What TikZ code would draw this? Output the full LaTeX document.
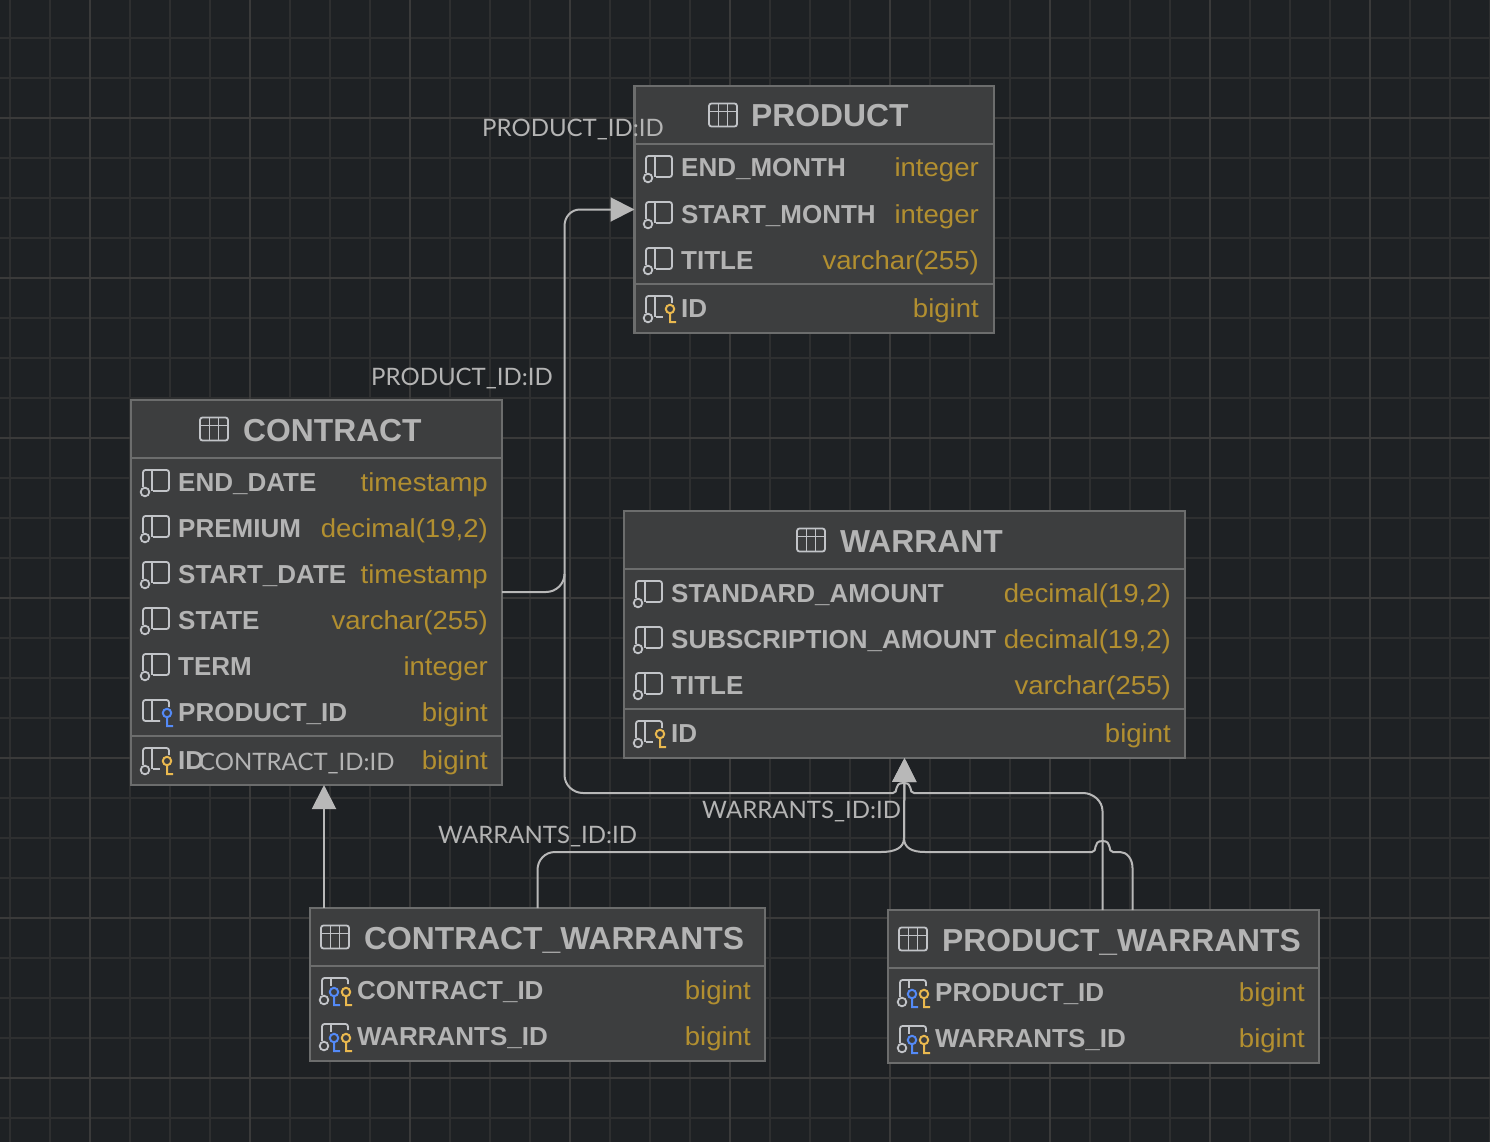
\documentclass[tikz,border=0pt]{standalone}
\usepackage{fontspec}
\setmainfont{Liberation Sans}
\newfontfamily\typefont[FakeStretch=1.06]{Liberation Sans}
\newfontfamily\labelfont{Lato}
\usetikzlibrary{arrows.meta}
\definecolor{canvas}{HTML}{1E2124}
\definecolor{gridminor}{HTML}{2E2F30}
\definecolor{gridmajor}{HTML}{3A3A3A}
\definecolor{tablefill}{HTML}{3D3E3F}
\definecolor{tableline}{HTML}{6C6D6D}
\definecolor{nametext}{HTML}{B4B4B4}
\definecolor{typetext}{HTML}{B28F30}
\definecolor{iconline}{HTML}{C2C4C8}
\definecolor{linkline}{HTML}{B8B8B8}
\definecolor{goldkey}{HTML}{EAB94F}
\definecolor{bluekey}{HTML}{548AF7}
\tikzset{
  tablebox/.style={draw=tableline,fill=tablefill,line width=2.2pt,rectangle,inner sep=0pt,outer sep=0pt,anchor=north west},
  tablesep/.style={draw=tableline,line width=2pt},
  tabletitle/.style={anchor=west,inner sep=0pt,text=nametext,text height=24pt,text depth=0pt,font=\fontsize{31.8pt}{36pt}\selectfont\bfseries},
  colname/.style={anchor=west,inner sep=0pt,text=nametext,text height=18pt,text depth=0pt,font=\fontsize{26pt}{30pt}\selectfont\bfseries},
  coltype/.style={anchor=east,inner sep=0pt,text=typetext,text height=18pt,text depth=0pt,font=\fontsize{26pt}{30pt}\typefont},
  linklabel/.style={anchor=west,inner sep=0pt,text=nametext,text height=18pt,text depth=0pt,font=\fontsize{24pt}{30pt}\labelfont},
  fklink/.style={draw=linkline,line width=2pt},
  fktip/.style={-{Triangle[length=24pt,width=24pt,fill=linkline]}},
  iconstroke/.style={draw=iconline,line width=1.8pt,rounded corners=2.5pt},
  tabicon/.pic={
    \draw[iconstroke] (-14,-11.5) rectangle (14,11.5);
    \draw[iconstroke] (-14,-3.5) -- (14,-3.5) (-4.5,-11.5) -- (-4.5,11.5) (4.5,-11.5) -- (4.5,11.5);
  },
  hollowdot/.pic={\draw[iconline,line width=1.8pt] (0,0) circle[radius=4.3pt];},
  keymark/.pic={
    \draw[pic actions,line width=2pt,fill=none] (0,0) circle[radius=4.2pt] (0,4.2) -- (0,13) -- (6,13);
  },
  colicon/.pic={
    \draw[iconstroke] (1,5) -- (1,-12) -- (27,-12) -- (27,9) -- (11,9);
    \draw[iconline,line width=1.8pt] (10,-12) -- (10,9);
    \pic at (3,10) {hollowdot};
  },
  pkicon/.pic={
    \draw[iconstroke] (1,5) -- (1,-12) -- (27,-12) -- (27,-5);
    \draw[iconline,line width=1.8pt] (10,-12) -- (10,9) (11,9) -- (18,9);
    \pic at (3,10) {hollowdot};
    \pic[draw=goldkey] at (25,1) {keymark};
  },
  fkicon/.pic={
    \draw[iconstroke] (27,-5) -- (27,-12) -- (1,-12) -- (1,9) -- (18,9);
    \draw[iconline,line width=1.8pt] (10,-12) -- (10,9);
    \pic[draw=bluekey] at (25,1) {keymark};
  },
  pfkicon/.pic={
    \draw[iconstroke] (1,5) -- (1,-12) -- (27,-12) -- (27,-6);
    \draw[iconline,line width=1.8pt] (10,-12) -- (10,-4);
    \pic at (3,10) {hollowdot};
    \pic[draw=bluekey] at (13,2) {keymark};
    \pic[draw=goldkey] at (25,2) {keymark};
  },
}
% name, icon x, text x, type x, row y, label, type, icon
\newcommand{\dbrow}[8]{
  \pic at (#2,#5) {#8};
  \node[colname] (#1) at (#3,#5) {#6};
  \node[coltype] (#1-type) at (#4,#5) {#7};
}
\begin{document}
\begin{tikzpicture}[x=1pt,y=-1pt]
  \useasboundingbox (0,0) rectangle (1490,1142);
  \fill[canvas] (0,0) rectangle (1490,1142);
  \foreach \gx in {10,50,...,1490} \draw[gridminor,line width=2pt] (\gx,0) -- (\gx,1142);
  \foreach \gy in {38,78,...,1142} \draw[gridminor,line width=2pt] (0,\gy) -- (1490,\gy);
  \foreach \gx in {90,250,...,1490} \draw[gridmajor,line width=2pt] (\gx,0) -- (\gx,1142);
  \foreach \gy in {118,278,...,1142} \draw[gridmajor,line width=2pt] (0,\gy) -- (1490,\gy);

  % tables
  \node[tablebox,minimum width=359.5pt,minimum height=247pt] (product) at (634.5,86) {};
  \draw[tablesep] (product.west |- 0,144) -- (product.east |- 0,144);
  \draw[tablesep] (product.west |- 0,284) -- (product.east |- 0,284);
  \pic at (723,115) {tabicon};
  \node[tabletitle] (product-title) at (751,115) {PRODUCT};
  \dbrow{product-endmonth}{645}{681}{979}{168}{END\_MONTH}{integer}{colicon}
  \dbrow{product-startmonth}{645}{681}{979}{214}{START\_MONTH}{integer}{colicon}
  \dbrow{product-name}{645}{681}{979}{260}{TITLE}{varchar(255)}{colicon}
  \dbrow{product-id}{645}{681}{979}{308}{ID}{bigint}{pkicon}

  \node[tablebox,minimum width=371pt,minimum height=385pt] (contract) at (131,400) {};
  \draw[tablesep] (contract.west |- 0,458) -- (contract.east |- 0,458);
  \draw[tablesep] (contract.west |- 0,736) -- (contract.east |- 0,736);
  \pic at (214,429) {tabicon};
  \node[tabletitle] (contract-title) at (243,429) {CONTRACT};
  \dbrow{contract-enddate}{142}{178}{488}{482}{END\_DATE}{timestamp}{colicon}
  \dbrow{contract-premium}{142}{178}{488}{528}{PREMIUM}{decimal(19,2)}{colicon}
  \dbrow{contract-startdate}{142}{178}{488}{574}{START\_DATE}{timestamp}{colicon}
  \dbrow{contract-state}{142}{178}{488}{620}{STATE}{varchar(255)}{colicon}
  \dbrow{contract-term}{142}{178}{488}{666}{TERM}{integer}{colicon}
  \dbrow{contract-productid}{142}{178}{488}{712}{PRODUCT\_ID}{bigint}{fkicon}
  \dbrow{contract-id}{142}{178}{488}{760}{ID}{bigint}{pkicon}

  \node[tablebox,minimum width=561pt,minimum height=247pt] (warrant) at (624,511) {};
  \draw[tablesep] (warrant.west |- 0,569) -- (warrant.east |- 0,569);
  \draw[tablesep] (warrant.west |- 0,709) -- (warrant.east |- 0,709);
  \pic at (811,540) {tabicon};
  \node[tabletitle] (warrant-title) at (840,540) {WARRANT};
  \dbrow{warrant-standard}{635}{671}{1171}{593}{STANDARD\_AMOUNT}{decimal(19,2)}{colicon}
  \dbrow{warrant-subscription}{635}{671}{1171}{639}{SUBSCRIPTION\_AMOUNT}{decimal(19,2)}{colicon}
  \dbrow{warrant-name}{635}{671}{1171}{685}{TITLE}{varchar(255)}{colicon}
  \dbrow{warrant-id}{635}{671}{1171}{733}{ID}{bigint}{pkicon}

  \node[tablebox,minimum width=455pt,minimum height=153pt] (cw) at (310,908) {};
  \draw[tablesep] (cw.west |- 0,966) -- (cw.east |- 0,966);
  \pic at (335,937) {tabicon};
  \node[tabletitle] (cw-title) at (364,937) {CONTRACT\_WARRANTS};
  \dbrow{cw-contractid}{321}{357}{751}{990}{CONTRACT\_ID}{bigint}{pfkicon}
  \dbrow{cw-warrantsid}{321}{357}{751}{1036}{WARRANTS\_ID}{bigint}{pfkicon}

  \node[tablebox,minimum width=431pt,minimum height=153pt] (pw) at (888,910) {};
  \draw[tablesep] (pw.west |- 0,968) -- (pw.east |- 0,968);
  \pic at (913,939) {tabicon};
  \node[tabletitle] (pw-title) at (942,939) {PRODUCT\_WARRANTS};
  \dbrow{pw-productid}{899}{935}{1305}{992}{PRODUCT\_ID}{bigint}{pfkicon}
  \dbrow{pw-warrantsid}{899}{935}{1305}{1038}{WARRANTS\_ID}{bigint}{pfkicon}

  % links
  \draw[fklink] (contract.east |- 0,592) -- (546,592) .. controls (556,592) and (564.5,584) .. (564.5,574);
  \draw[fklink,fktip] ([xshift=-1pt]pw.north) -- (1102.5,811) .. controls (1102.5,801) and (1093,793) .. (1083,793) -- (914,793)
    .. controls (908,793) and (914,783) .. (903.5,783) .. controls (893,783) and (899,793) .. (893,793)
    -- (583,793) .. controls (573,793) and (564.5,785) .. (564.5,775) -- (564.5,226)
    .. controls (564.5,217) and (571,209.5) .. (580,209.5) -- (product.west);
  \draw[fklink,fktip] ([xshift=-213.5pt]cw.north) -- ([xshift=7.5pt]contract.south);
  \draw[fklink,fktip] (cw.north) -- (537.5,870) .. controls (537.5,860) and (545,852) .. (555,852) -- (881,852)
    .. controls (895,852) and (904,848) .. (904,838) -- (warrant.south);
  \draw[fklink,fktip] ([xshift=29pt]pw.north) -- (1132.5,868) .. controls (1132.5,859) and (1127,852) .. (1120,852) -- (1113,852)
    .. controls (1107,852) and (1113,841) .. (1102.5,841) .. controls (1092,841) and (1098,852) .. (1092,852)
    -- (925,852) .. controls (912,852) and (904,848) .. (904,838) -- (warrant.south);

  % link labels
  \node[linklabel] (label-product-top) at (482,128) {PRODUCT\_ID:ID};
  \node[linklabel] (label-product-low) at (371,376) {PRODUCT\_ID:ID};
  \node[linklabel] (label-contract) at (199,761) {CONTRACT\_ID:ID};
  \node[linklabel] (label-warrants-right) at (702,809) {WARRANTS\_ID:ID};
  \node[linklabel] (label-warrants-left) at (438,834) {WARRANTS\_ID:ID};
\end{tikzpicture}
\end{document}
